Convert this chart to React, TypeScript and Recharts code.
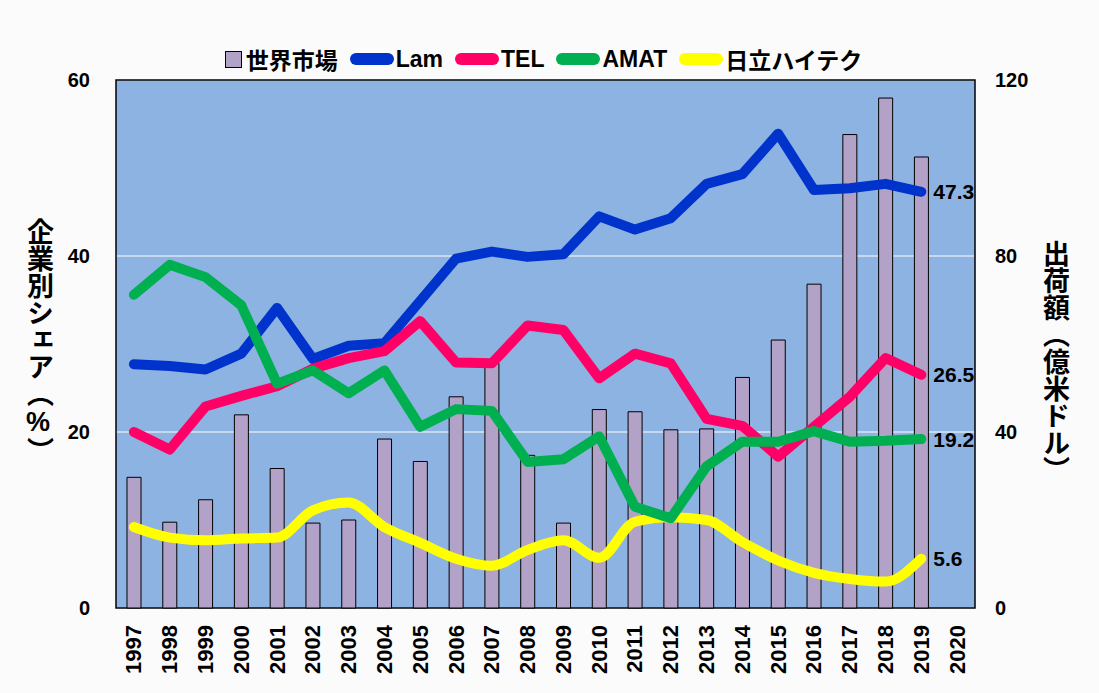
import React from 'react';
import { ComposedChart, Bar, Line, XAxis, YAxis, CartesianGrid, ReferenceArea } from 'recharts';

const years = ['1997', '1998', '1999', '2000', '2001', '2002', '2003', '2004', '2005', '2006', '2007', '2008',
  '2009', '2010', '2011', '2012', '2013', '2014', '2015', '2016', '2017', '2018', '2019', '2020'];

// 世界市場 (億米ドル, right axis)
const market = [29.7, 19.5, 24.6, 43.9, 31.7, 19.3, 20.0, 38.4, 33.3, 48.0, 55.6, 34.7,
  19.3, 45.1, 44.6, 40.5, 40.7, 52.4, 60.9, 73.6, 107.6, 115.9, 102.5, null];

// shares (%, left axis)
const lam = [27.7, 27.5, 27.1, 28.9, 34.1, 28.3, 29.8, 30.1, 34.9, 39.7, 40.5, 39.9,
  40.2, 44.5, 43.0, 44.3, 48.2, 49.3, 53.9, 47.5, 47.7, 48.2, 47.3, null];
const tel = [20.0, 18.0, 22.9, 24.1, 25.2, 27.2, 28.4, 29.2, 32.6, 27.9, 27.8, 32.1,
  31.6, 26.1, 28.9, 27.8, 21.5, 20.7, 17.2, 20.6, 24.0, 28.4, 26.5, null];
const amat = [35.6, 39.0, 37.6, 34.4, 25.5, 27.0, 24.4, 27.0, 20.6, 22.6, 22.4, 16.6,
  16.9, 19.5, 11.5, 10.2, 16.1, 18.9, 18.9, 20.1, 18.9, 19.0, 19.2, null];
const hitachi = [9.2, 8.0, 7.7, 7.9, 8.0, 11.1, 12.0, 9.2, 7.4, 5.6, 4.8, 6.6,
  7.7, 5.7, 9.8, 10.3, 10.0, 7.5, 5.4, 4.0, 3.3, 3.0, 5.6, null];

const leftTicks = [0, 20, 40, 60];
const rightTicks = [0, 40, 80, 120];

const data = years.map((y, i) => ({
  year: y,
  market: market[i],
  lam: lam[i],
  tel: tel[i],
  amat: amat[i],
  hitachi: hitachi[i],
}));

const FONT = "'Liberation Sans Narrow', 'Liberation Sans', 'Noto Sans CJK JP', sans-serif";
const JP_FONT = "'Liberation Sans', 'Noto Sans CJK JP', sans-serif";
const LAST = 22;

const XTick = (props: any) => {
  const { x, y, payload } = props;
  const ty = y + 9;
  return (
    <text x={x} y={ty} transform={`rotate(-90 ${x} ${ty})`} textAnchor="end" dominantBaseline="central"
      fontFamily="'Liberation Sans', sans-serif" fontWeight="bold" fontSize={22} fill="#000">
      {payload.value}
    </text>
  );
};

const endLabel = (props: any) => {
  const { x, y, index, value } = props;
  if (index !== LAST || value == null) return <g key={`e${index}`} />;
  return (
    <text key={`e${index}`} x={x + 12} y={y} dominantBaseline="central" fontFamily={FONT}
      fontWeight="bold" fontSize={21} fill="#000">
      {value}
    </text>
  );
};

const legendItems = [
  { name: '世界市場', color: '#b3a2c7', box: true },
  { name: 'Lam', color: '#0033cc' },
  { name: 'TEL', color: '#ff0066' },
  { name: 'AMAT', color: '#00b050' },
  { name: '日立ハイテク', color: '#ffff00' },
];

export default function App() {
  return (
    <div style={{ position: 'absolute', left: 0, top: 0, width: 1099, height: 693, background: '#fbfbfb', fontFamily: JP_FONT }}>
      <div style={{ position: 'absolute', left: 0, top: 42, width: 1099, display: 'flex', justifyContent: 'center', alignItems: 'center' }}>
        {legendItems.map((it) => (
          <div key={it.name} style={{ display: 'flex', alignItems: 'center', marginRight: 12 }}>
            {it.box ? (
              <span style={{ display: 'inline-block', width: 15, height: 15, background: it.color, border: '1px solid #000', marginRight: 4 }} />
            ) : (
              <span style={{ display: 'inline-block', width: 44, height: 12, background: it.color, borderRadius: 6, marginRight: 2 }} />
            )}
            <span style={{ fontSize: 23, fontWeight: 'bold', color: '#000', fontFamily: FONT }}>{it.name}</span>
          </div>
        ))}
      </div>
      <div style={{ position: 'absolute', left: 24, top: 218, writingMode: 'vertical-rl', textOrientation: 'upright', fontSize: 27, fontWeight: 'bold', color: '#000', lineHeight: 1 }}>
        企業別シェア（%）
      </div>
      <div style={{ position: 'absolute', left: 1040, top: 240, writingMode: 'vertical-rl', textOrientation: 'upright', fontSize: 27, fontWeight: 'bold', color: '#000', lineHeight: 1 }}>
        出荷額（億米ドル）
      </div>
      <ComposedChart width={1099} height={693} data={data} margin={{ top: 80, right: 84, left: 76, bottom: 5 }}>
        <CartesianGrid yAxisId="left" vertical={false} stroke="#ffffff" strokeWidth={1} fill="#8db3e2" fillOpacity={1} />
        <XAxis dataKey="year" height={80} interval={0} tick={<XTick />} tickLine={false} axisLine={false} />
        <YAxis yAxisId="left" domain={[0, 60]} ticks={leftTicks} width={40} tickSize={0} tickMargin={26}
          axisLine={false} tickLine={false} tick={{ fill: '#000', fontSize: 20, fontWeight: 'bold', fontFamily: FONT }} />
        <YAxis yAxisId="right" orientation="right" domain={[0, 120]} ticks={rightTicks} width={40} tickSize={0} tickMargin={20}
          axisLine={false} tickLine={false} tick={{ fill: '#000', fontSize: 20, fontWeight: 'bold', fontFamily: FONT, textAnchor: 'start' }} />
        <Bar yAxisId="right" dataKey="market" name="世界市場" barSize={14} fill="#b3a2c7" stroke="#000" strokeWidth={1} isAnimationActive={false} />
        <Line yAxisId="left" type="linear" dataKey="lam" name="Lam" stroke="#0033cc" strokeWidth={10} strokeLinecap="round" strokeLinejoin="round" dot={false} label={endLabel} isAnimationActive={false} />
        <Line yAxisId="left" type="linear" dataKey="tel" name="TEL" stroke="#ff0066" strokeWidth={10} strokeLinecap="round" strokeLinejoin="round" dot={false} label={endLabel} isAnimationActive={false} />
        <Line yAxisId="left" type="monotone" dataKey="hitachi" name="日立ハイテク" stroke="#ffff00" strokeWidth={10} strokeLinecap="round" strokeLinejoin="round" dot={false} label={endLabel} isAnimationActive={false} />
        <Line yAxisId="left" type="linear" dataKey="amat" name="AMAT" stroke="#00b050" strokeWidth={10} strokeLinecap="round" strokeLinejoin="round" dot={false} label={endLabel} isAnimationActive={false} />
        <ReferenceArea yAxisId="left" y1={0} y2={60} fill="none" stroke="#000" strokeWidth={1.5} />
      </ComposedChart>
    </div>
  );
}
